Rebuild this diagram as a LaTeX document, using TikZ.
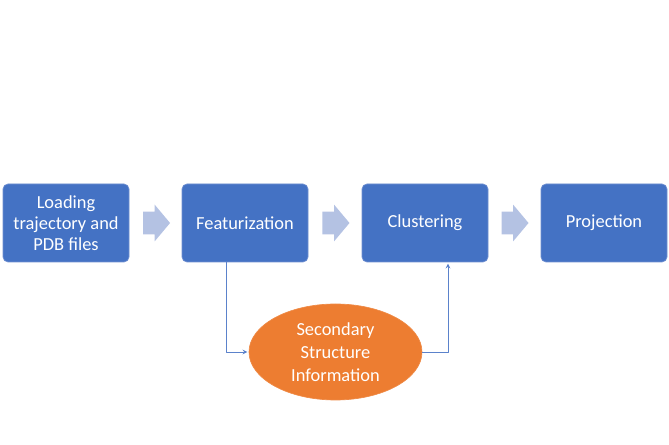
\documentclass[tikz,border=0pt]{standalone}
\usepackage{fontspec}
\setmainfont{Carlito}
\usetikzlibrary{shapes.geometric,shapes.arrows}
\definecolor{boxblue}{HTML}{4472C4}
\definecolor{boxedge}{HTML}{6F8FD0}
\definecolor{chevron}{HTML}{B4C2E3}
\definecolor{ovalorange}{HTML}{ED7D31}
\definecolor{linkblue}{HTML}{5B82CB}
\tikzset{
  stepbox/.style={rectangle, rounded corners=3.75pt, fill=boxblue, draw=boxedge, line width=0.5pt,
    minimum width=94.5pt, minimum height=58.5pt, text=white, align=center,
    font=\fontsize{13.8pt}{15.9pt}\selectfont},
  infooval/.style={ellipse, fill=ovalorange, draw=ovalorange!90!white, line width=0.5pt,
    minimum width=129.75pt, minimum height=72pt, inner sep=0pt, text=white, align=center,
    font=\fontsize{13.8pt}{17.25pt}\selectfont},
  blockarrow/.style={single arrow, fill=chevron, draw=none, inner xsep=0pt, inner ysep=8.25pt,
    minimum height=20.25pt, single arrow head extend=5.25pt, single arrow tip angle=100},
  conn/.style={->, draw=linkblue, line width=0.6pt, shorten >=1pt}
}
\begin{document}
\begin{tikzpicture}[x=0.75pt, y=-0.75pt, >=stealth, line join=round]
  \useasboundingbox (0,0) rectangle (669,445);
  % pipeline boxes
  \node[stepbox] (load) at (66,223)  {Loading\\trajectory and\\PDB files};
  \node[stepbox] (feat) at (245,223) {Featurization};
  \node[stepbox] (clus) at (425,223) {Clustering};
  \node[stepbox] (proj) at (604,223) {Projection};
  % block arrows between the steps
  \path (load.east) -- (feat.west) node[pos=0.43, blockarrow] (a1) {};
  \path (feat.east) -- (clus.west) node[pos=0.43, blockarrow] (a2) {};
  \path (clus.east) -- (proj.west) node[pos=0.42, blockarrow] (a3) {};
  % secondary structure branch
  \node[infooval] (sec) at (335.5,352) {Secondary\\Structure\\Information};
  \coordinate (down) at ([xshift=-14.25pt]feat.south);
  \coordinate (up) at ([xshift=17.25pt]clus.south);
  \draw[conn] (down) |- (sec.west);
  \draw[conn] (sec.east) -| (up);
\end{tikzpicture}
\end{document}
